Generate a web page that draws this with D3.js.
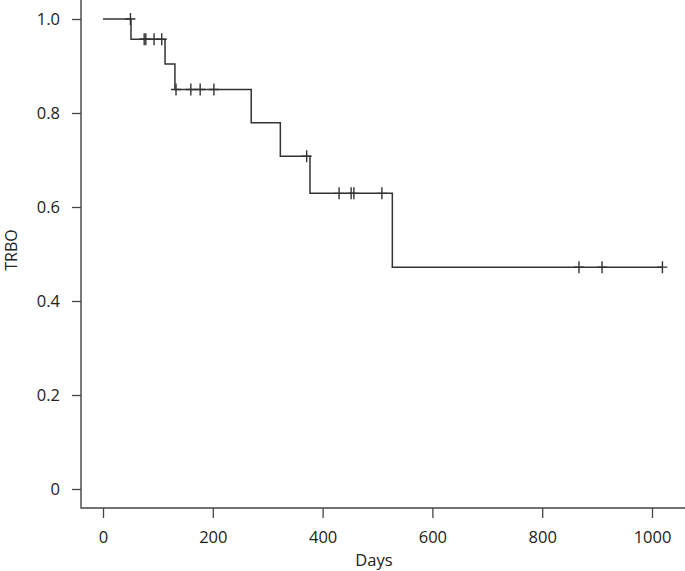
<!DOCTYPE html>
<html>
<head>
<meta charset="utf-8">
<script src="https://cdn.jsdelivr.net/npm/d3@7"></script>
<style>
  body { margin: 0; background: #fff; }
  text { font-family: "Open Sans", "Liberation Sans", sans-serif; fill: #222; }
</style>
</head>
<body>
<div id="chart"></div>
<script>
// Kaplan-Meier steps
var eventDays  = [0, 51, 113, 131, 270, 323, 377, 527];
var survival   = [1.0, 0.957, 0.904, 0.850, 0.779, 0.708, 0.629, 0.472];
var lastDay    = 1019;
// censored observations (drawn as +)
var censorDays = [50, 75, 78, 93, 107, 133, 160, 177, 202, 371, 430, 452, 457, 508, 867, 909, 1019];
var xTicks     = [0, 200, 400, 600, 800, 1000];
var yTicks     = [0, 0.2, 0.4, 0.6, 0.8, 1.0];

var width  = 685;
var height = 571;

var x = d3.scaleLinear().domain([0, 1000]).range([103, 652]);
var y = d3.scaleLinear().domain([0, 1]).range([489, 19]);

var svg = d3.select("#chart").append("svg")
            .attr("width", width)
            .attr("height", height);

// survival at a given day (step function)
function survAt(t) {
  var s = survival[0];
  eventDays.forEach(function(d, i) { if (d <= t) s = survival[i]; });
  return s;
}

// box lines (left + bottom)
svg.append("path")
   .attr("d", "M81,0V508H685")
   .attr("fill", "none")
   .attr("stroke", "#444")
   .attr("stroke-width", 1.4);

// y axis
var yAxis = d3.axisLeft(y)
              .tickValues(yTicks)
              .tickSize(9)
              .tickPadding(12)
              .tickFormat(function(d) { return d === 0 ? "0" : d3.format(".1f")(d); });

var yg = svg.append("g")
            .attr("transform", "translate(81,0)")
            .call(yAxis);
yg.select(".domain").remove();

// x axis
var xAxis = d3.axisBottom(x)
              .tickValues(xTicks)
              .tickSize(10)
              .tickPadding(13)
              .tickFormat(d3.format("d"));

var xg = svg.append("g")
            .attr("transform", "translate(0,508)")
            .call(xAxis);
xg.select(".domain").remove();

svg.selectAll(".tick line").attr("stroke", "#444").attr("stroke-width", 1.3);
svg.selectAll(".tick text")
   .style("font-family", "'Open Sans', sans-serif")
   .style("font-size", "16.5px")
   .attr("fill", "#222");

// axis titles
svg.append("text")
   .attr("x", 374)
   .attr("y", 566)
   .attr("text-anchor", "middle")
   .style("font-size", "16.5px")
   .text("Days");

svg.append("text")
   .attr("transform", "translate(17,250) rotate(-90)")
   .attr("text-anchor", "middle")
   .style("font-size", "16px")
   .text("TRBO");

// step curve
var pts = eventDays.map(function(d, i) { return [d, survival[i]]; });
pts.push([lastDay, survival[survival.length - 1]]);

var line = d3.line()
             .x(function(d) { return x(d[0]); })
             .y(function(d) { return y(d[1]); })
             .curve(d3.curveStepAfter);

svg.append("path")
   .datum(pts)
   .attr("d", line)
   .attr("fill", "none")
   .attr("stroke", "#333")
   .attr("stroke-width", 1.5);

// censor marks
var marks = svg.append("g")
               .selectAll("g")
               .data(censorDays)
               .enter()
                 .append("g")
                 .attr("transform", function(d) { return "translate(" + x(d) + "," + y(survAt(d)) + ")"; });

marks.append("path")
     .attr("d", "M-5,0H5M0,-6V6")
     .attr("stroke", "#333")
     .attr("stroke-width", 1.4);
</script>
</body>
</html>
